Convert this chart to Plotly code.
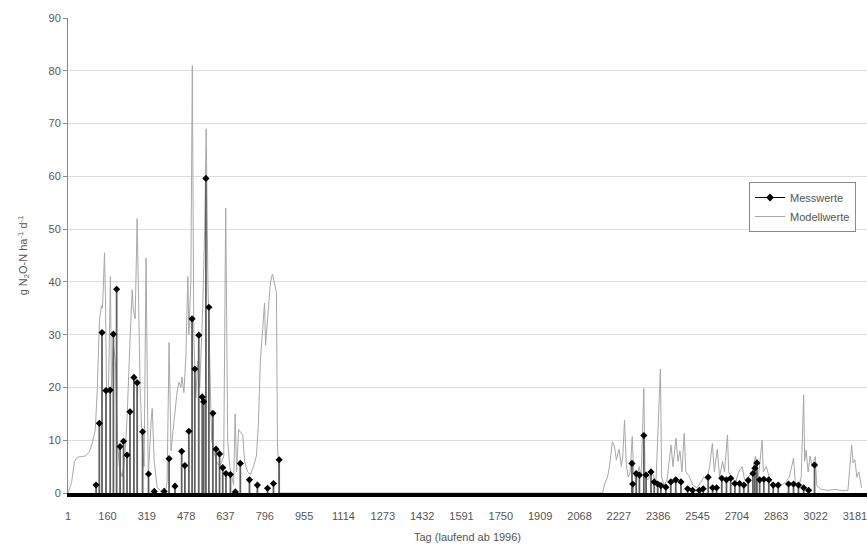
import plotly.graph_objects as go

# ---- data ----
# Measured values (Messwerte): day and g N2O-N/ha/d
mess_days = [114, 127, 138, 154, 171, 184, 197, 211, 225, 239, 251, 267, 280, 302, 326, 349, 389,
             409, 433, 460, 473, 489, 502, 513, 529, 543, 549, 558, 570, 586, 599, 613, 626, 639, 657,
             677, 697, 734, 766, 807, 831, 854,
             2280, 2283, 2297, 2310, 2328, 2337, 2357, 2370, 2384, 2397, 2417, 2437, 2457, 2478, 2505,
             2525, 2552, 2568, 2588, 2606, 2622, 2643, 2662, 2679, 2696, 2715, 2732, 2750, 2769, 2777,
             2785, 2796, 2813, 2833, 2851, 2871, 2913, 2933, 2953, 2974, 2994, 3018]
mess_vals = [1.5, 13.2, 30.4, 19.4, 19.5, 30.1, 38.6, 8.8, 9.8, 7.2, 15.4, 21.9, 20.9, 11.6, 3.6, 0.3, 0.3,
             6.5, 1.3, 7.9, 5.2, 11.7, 33.0, 23.5, 29.9, 18.2, 17.3, 59.6, 35.2, 15.1, 8.3, 7.4, 4.8, 3.7, 3.5,
             0.2, 5.6, 2.5, 1.5, 0.9, 1.8, 6.3,
             5.6, 1.7, 3.7, 3.4, 10.9, 3.4, 4.0, 2.1, 1.7, 1.4, 1.1, 2.1, 2.5, 2.1, 0.8,
             0.5, 0.5, 0.8, 3.0, 1.0, 1.0, 2.8, 2.5, 2.8, 1.8, 1.8, 1.5, 2.4, 3.7, 4.7,
             5.7, 2.5, 2.6, 2.5, 1.5, 1.5, 1.7, 1.7, 1.5, 1.0, 0.5, 5.3]

# Model values (Modellwerte): day and g N2O-N/ha/d
model_days = [1, 15, 27, 39, 71, 87, 99, 111, 119, 128, 136, 140, 144, 148, 152, 156, 164, 172, 176,
              184, 192, 200, 208, 220, 232, 240, 252, 260, 264, 272, 280, 292, 300, 308, 316, 325, 337,
              341, 349, 361, 377, 393, 401, 409, 417, 429, 441, 449, 457, 461, 469, 477, 485, 489, 497,
              503, 509, 517, 525, 533, 545, 553, 559, 566, 574, 581, 589, 601, 614, 630, 638, 646, 654,
              662, 670, 676, 682, 690, 698, 707, 714, 726, 738, 750, 762, 770, 778, 786, 795, 799, 811,
              819, 827, 835, 843, 847, 855, 870,
              2161, 2170, 2181, 2189, 2201, 2209, 2217, 2228, 2237, 2243, 2250, 2257, 2265, 2273, 2281,
              2287, 2297, 2309, 2317, 2328, 2333, 2345, 2361, 2377, 2395, 2400, 2410, 2422, 2430, 2438,
              2446, 2458, 2466, 2474, 2482, 2491, 2498, 2510, 2526, 2542, 2558, 2570, 2582, 2594, 2605,
              2613, 2625, 2634, 2646, 2654, 2666, 2671, 2683, 2699, 2711, 2726, 2735, 2751, 2767, 2779,
              2791, 2806, 2811, 2823, 2835, 2850, 2868, 2884, 2900, 2916, 2933, 2940, 2956, 2964, 2974,
              2978, 2984, 2992, 3000, 3008, 3021, 3027, 3045, 3073, 3101, 3133, 3153, 3168, 3174, 3181,
              3189, 3197, 3208]
model_vals = [0, 2, 6, 6.8, 7, 7.8, 9.5, 12, 20, 33, 35.5, 35, 40, 45.5, 37, 20, 19, 41, 20,
              28, 25, 10, 5, 3, 8, 15, 30, 38.5, 35, 33, 52, 20, 10, 5, 44.5, 3, 14,
              16, 6, 1, 0.3, 0, 2, 28.5, 8, 14, 19, 21, 20, 22, 19, 26, 41, 30, 40,
              81, 30, 18, 25, 20, 35, 50, 69, 40, 20, 10, 8, 6, 5, 7, 54, 10, 5,
              3, 1.5, 15, 4, 12, 11.5, 11, 6, 4, 3.5, 5, 7, 13, 25, 30, 36, 28, 35,
              40, 41.5, 40, 38, 10, 0, 0,
              0, 1.8, 3, 5, 9.7, 8.9, 6.3, 8.3, 5, 7, 13.8, 5.4, 3, 4, 10.7,
              4, 2, 5, 3, 19.8, 3, 2.5, 4, 2, 23.5, 3, 1.5, 2.5, 6, 9.1,
              5, 10.4, 6, 8, 4, 11.3, 4, 3.3, 1.5, 1, 2, 3, 2.5, 5, 9.4,
              4, 8.3, 3, 6, 4, 11, 4, 3, 2, 4, 5, 2.5, 3, 4, 7,
              3, 10, 4, 5, 3, 1.5, 1, 1.5, 2, 3, 6.6, 2, 1.5, 3, 18.6,
              6, 8.1, 4, 7, 5, 6.9, 1.4, 0.7, 0.5, 0.7, 0.4, 0.5, 9.1, 5.7, 6.3,
              3, 4, 1]

x_ticks = [1, 160, 319, 478, 637, 796, 955, 1114, 1273, 1432, 1591, 1750, 1909, 2068, 2227,
           2386, 2545, 2704, 2863, 3022, 3181]
y_ticks = [0, 10, 20, 30, 40, 50, 60, 70, 80, 90]

FONT = "Liberation Sans, Arial, sans-serif"
TXT = "#555555"

fig = go.Figure()

# legend entry for the measured series (line + marker look)
fig.add_trace(go.Scatter(
    x=[None], y=[None], mode="lines+markers", name="Messwerte",
    line=dict(color="black", width=1),
    marker=dict(symbol="diamond", size=6, color="black"),
))

fig.add_trace(go.Scatter(
    x=model_days, y=model_vals, mode="lines", name="Modellwerte",
    line=dict(color="#a8a8a8", width=1),
))

fig.add_trace(go.Scatter(
    x=mess_days, y=mess_vals, mode="markers", name="Messwerte", showlegend=False,
    marker=dict(symbol="diamond", size=5.5, color="black"),
    error_y=dict(type="data", symmetric=False, array=[0] * len(mess_vals),
                 arrayminus=mess_vals, width=0, thickness=1.8, color="#606060"),
))

fig.update_layout(
    width=867, height=547,
    margin=dict(l=68, r=0, t=18, b=54, autoexpand=False),
    paper_bgcolor="white", plot_bgcolor="white",
    font=dict(family=FONT, size=11, color=TXT),
    legend=dict(
        x=(749 - 68) / 799, xanchor="left", y=(493 - 182) / 475, yanchor="top",
        bgcolor="white", bordercolor="#8a8a8a", borderwidth=1,
        font=dict(family=FONT, size=11, color=TXT),
        tracegroupgap=0, itemwidth=30,
    ),
    showlegend=True,
)

fig.update_xaxes(
    range=[0.5, 3230], tickmode="array", tickvals=x_ticks, ticktext=[str(t) for t in x_ticks],
    showgrid=False, zeroline=False, automargin=False, ticklabeloverflow="allow",
    showline=True, linecolor="black", linewidth=4,
    ticks="outside", ticklen=10, tickcolor="rgba(0,0,0,0)",
    tickfont=dict(family=FONT, size=11, color=TXT),
    title=dict(text="Tag (laufend ab 1996)", font=dict(family=FONT, size=11, color=TXT),
               standoff=13),
)

fig.update_yaxes(
    range=[0, 90], tickmode="array", tickvals=y_ticks,
    showgrid=True, gridcolor="#dcdcdc", gridwidth=1, zeroline=False, automargin=False,
    showline=True, linecolor="#8a8a8a", linewidth=1,
    ticks="outside", ticklen=4, tickcolor="#8a8a8a",
    tickfont=dict(family=FONT, size=11, color=TXT),
    title=dict(text="g N<sub>2</sub>O-N ha<sup>-1</sup> d<sup>-1</sup>",
               font=dict(family=FONT, size=11, color=TXT), standoff=18),
)

fig.write_html("out.html", config={"displayModeBar": False},
               post_script="document.body.style.margin='0px';")
